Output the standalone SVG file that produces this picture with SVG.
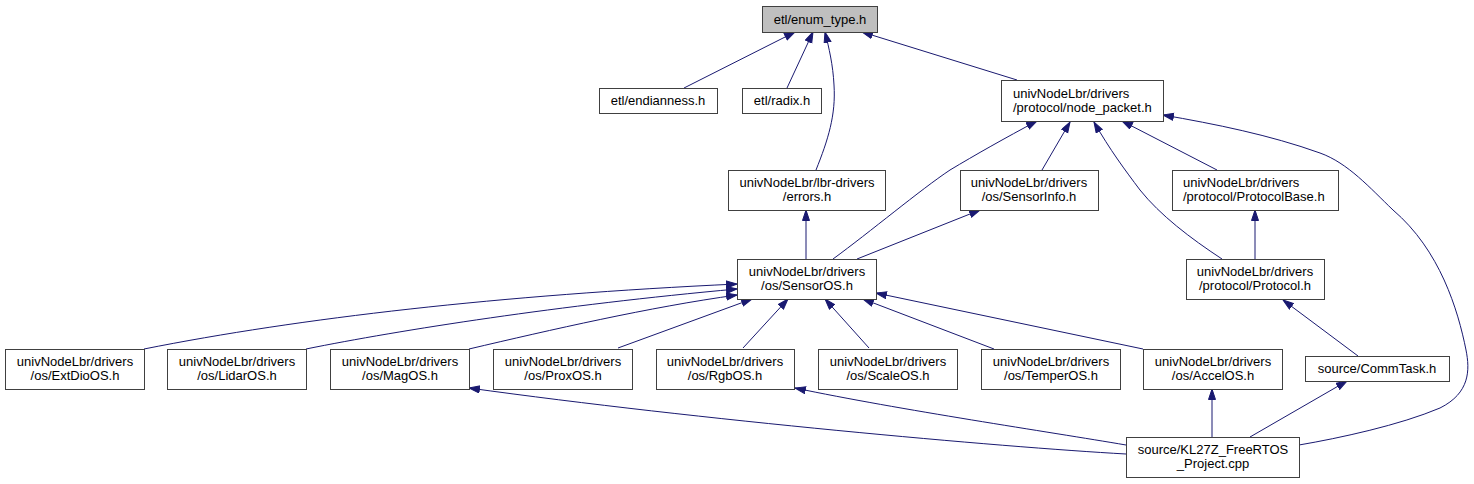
<svg xmlns="http://www.w3.org/2000/svg" width="1474" height="484" viewBox="0 0 1474 484">
<style>
.n rect{fill:#ffffff;stroke:#404040;stroke-width:1}
.n.sel rect{fill:#bfbfbf}
.n text{font-family:"Liberation Sans",Arial,sans-serif;font-size:13px;fill:#000}
.c{text-anchor:middle}
#edges path{fill:none;stroke:#191970;stroke-width:1;marker-end:url(#ah)}
</style>
<defs>
<marker id="ah" markerUnits="userSpaceOnUse" markerWidth="13" markerHeight="10" refX="11" refY="4" orient="auto">
<path d="M0.5,0.5 L11,4 L0.5,7.5 z" fill="#191970" stroke="#191970" stroke-width="1"/>
</marker>
</defs>
<rect width="1474" height="484" fill="#ffffff"/>
<g id="edges">
<path d="M684,88 L795,32"/>
<path d="M787,88 L813,32"/>
<path d="M816,170 C828,140 836,115 834,85 C833,65 829,48 825,32"/>
<path d="M1017,80 L862,32"/>
<path d="M833,259 C870,232 920,190 950,170 C975,155 1005,138 1037,121"/>
<path d="M1042,170 L1070,122"/>
<path d="M1222,259 C1190,238 1160,215 1140,190 C1125,170 1110,150 1094,122"/>
<path d="M1217,170 L1122,121"/>
<path d="M1299,445 C1340,438 1400,425 1440,408 C1470,393 1470,370 1466,350 C1458,310 1440,250 1393,210 C1370,188 1348,163 1320,153 C1270,135 1215,124 1163,115"/>
<path d="M806,259 L806,210"/>
<path d="M857,259 L980,210"/>
<path d="M1255,259 L1255,210"/>
<path d="M1358,356 L1283,300"/>
<path d="M1212,437 L1212,389"/>
<path d="M1250,437 L1347,381"/>
<path d="M1126,454 C1000,447 700,420 469,388"/>
<path d="M1126,445 C1050,432 900,410 795,388"/>
<path d="M144,349 C300,318 500,295 737,284"/>
<path d="M306,349 C400,330 560,305 737,289"/>
<path d="M469,349 C550,330 650,307 737,295"/>
<path d="M618,348 L752,299"/>
<path d="M743,348 L788,299"/>
<path d="M869,348 L825,299"/>
<path d="M994,349 L863,299"/>
<path d="M1143,349 L876,293"/>
</g>
<g id="enum_type" class="n sel"><rect x="762.5" y="6.5" width="115" height="26"/><text class="c" x="820" y="24">etl/enum_type.h</text></g>
<g id="endianness" class="n"><rect x="599.5" y="88.5" width="118" height="25"/><text class="c" x="658" y="105">etl/endianness.h</text></g>
<g id="radix" class="n"><rect x="742.5" y="88.5" width="79" height="25"/><text class="c" x="782" y="105">etl/radix.h</text></g>
<g id="node_packet" class="n"><rect x="1001.5" y="80.5" width="162" height="41"/><text x="1013" y="98">univNodeLbr/drivers</text><text x="1013" y="112">/protocol/node_packet.h</text></g>
<g id="errors" class="n"><rect x="728.5" y="170.5" width="157" height="40"/><text class="c" x="807" y="187">univNodeLbr/lbr-drivers</text><text class="c" x="807" y="201">/errors.h</text></g>
<g id="SensorInfo" class="n"><rect x="960.5" y="170.5" width="138" height="40"/><text class="c" x="1029" y="187">univNodeLbr/drivers</text><text class="c" x="1029" y="201">/os/SensorInfo.h</text></g>
<g id="ProtocolBase" class="n"><rect x="1172.5" y="170.5" width="166" height="40"/><text x="1183" y="187">univNodeLbr/drivers</text><text x="1183" y="201">/protocol/ProtocolBase.h</text></g>
<g id="SensorOS" class="n"><rect x="737.5" y="259.5" width="139" height="40"/><text class="c" x="807" y="276">univNodeLbr/drivers</text><text class="c" x="807" y="290">/os/SensorOS.h</text></g>
<g id="Protocol" class="n"><rect x="1186.5" y="259.5" width="138" height="40"/><text class="c" x="1255" y="276">univNodeLbr/drivers</text><text class="c" x="1255" y="290">/protocol/Protocol.h</text></g>
<g id="ExtDioOS" class="n"><rect x="5.5" y="349.5" width="139" height="40"/><text class="c" x="75" y="366">univNodeLbr/drivers</text><text class="c" x="75" y="380">/os/ExtDioOS.h</text></g>
<g id="LidarOS" class="n"><rect x="167.5" y="349.5" width="139" height="40"/><text class="c" x="237" y="366">univNodeLbr/drivers</text><text class="c" x="237" y="380">/os/LidarOS.h</text></g>
<g id="MagOS" class="n"><rect x="330.5" y="349.5" width="139" height="40"/><text class="c" x="400" y="366">univNodeLbr/drivers</text><text class="c" x="400" y="380">/os/MagOS.h</text></g>
<g id="ProxOS" class="n"><rect x="493.5" y="349.5" width="139" height="40"/><text class="c" x="563" y="366">univNodeLbr/drivers</text><text class="c" x="563" y="380">/os/ProxOS.h</text></g>
<g id="RgbOS" class="n"><rect x="656.5" y="349.5" width="138" height="40"/><text class="c" x="725" y="366">univNodeLbr/drivers</text><text class="c" x="725" y="380">/os/RgbOS.h</text></g>
<g id="ScaleOS" class="n"><rect x="818.5" y="349.5" width="139" height="40"/><text class="c" x="888" y="366">univNodeLbr/drivers</text><text class="c" x="888" y="380">/os/ScaleOS.h</text></g>
<g id="TemperOS" class="n"><rect x="981.5" y="349.5" width="139" height="40"/><text class="c" x="1051" y="366">univNodeLbr/drivers</text><text class="c" x="1051" y="380">/os/TemperOS.h</text></g>
<g id="AccelOS" class="n"><rect x="1143.5" y="349.5" width="139" height="40"/><text class="c" x="1213" y="366">univNodeLbr/drivers</text><text class="c" x="1213" y="380">/os/AccelOS.h</text></g>
<g id="CommTask" class="n"><rect x="1305.5" y="356.5" width="144" height="25"/><text class="c" x="1377" y="373">source/CommTask.h</text></g>
<g id="KL27Z" class="n"><rect x="1126.5" y="437.5" width="173" height="40"/><text class="c" x="1213" y="454">source/KL27Z_FreeRTOS</text><text class="c" x="1213" y="468">_Project.cpp</text></g>
</svg>
